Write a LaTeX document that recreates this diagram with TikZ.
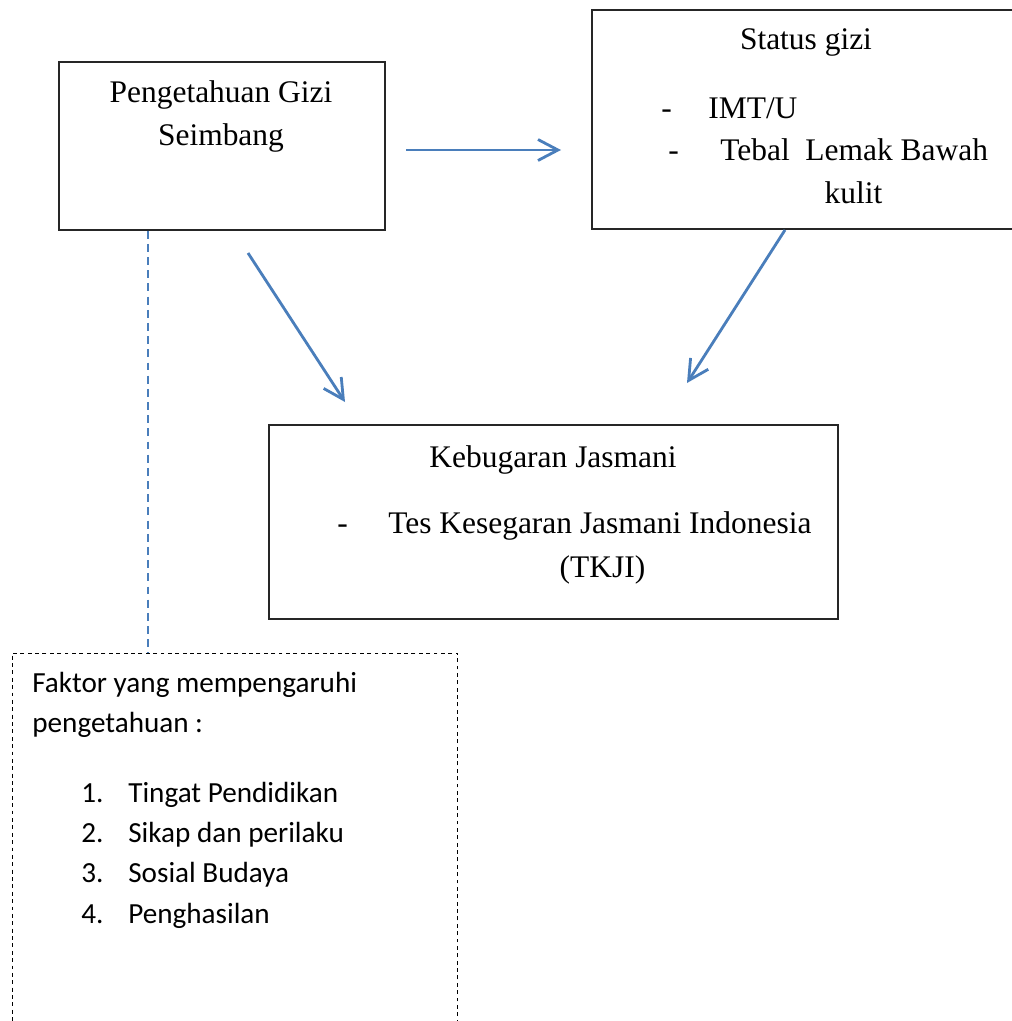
\documentclass[tikz,border=0pt]{standalone}
\usepackage{fontspec}
\setmainfont{Liberation Serif}
\newfontfamily\calibri{Carlito}
\usepackage{tikz}
\usetikzlibrary{arrows.meta,calc,positioning}
\definecolor{garisbiru}{RGB}{74,126,187}
\tikzstyle{arrow} = [line width=1.6pt, garisbiru, -{Straight Barb[length=0.4cm,width=0.42cm,line width=1.6pt]}]

\begin{document}
\begin{tikzpicture}[x=0.02cm,y=-0.02cm]
\tikzset{kotak/.style={draw=black!85,line width=0.85pt,rectangle,inner sep=0pt},
putus/.style={draw=black,line width=0.6pt,dash pattern=on 2.2pt off 2pt,rectangle,inner sep=0pt},
teks/.style={anchor=base,inner sep=0pt,font=\fontsize{17.9}{22}\selectfont},
teksw/.style={anchor=base west,inner sep=0pt,font=\fontsize{17.9}{22}\selectfont},
teksk/.style={anchor=base west,inner sep=0pt,font=\calibri\fontsize{16.6}{20}\selectfont}}
\useasboundingbox (0,0) rectangle (1011,1021);

% kotak
\node[kotak,minimum width=6.52cm,minimum height=3.36cm] (gizi) at (222,146){};
\node[kotak,minimum width=8.76cm,minimum height=4.38cm] (status) at (811,119.5){};
\node[kotak,minimum width=11.38cm,minimum height=3.88cm] (bugar) at (553.5,522){};
\node[putus,minimum width=8.92cm,minimum height=7.94cm] (faktor) at (235,851.5){};

% teks
\node[teks] (gizi1) at (221,102){Pengetahuan Gizi};
\node[teks] (gizi2) at (221,145){Seimbang};

\node[teks] (status1) at (806,50){Status gizi};
\node[teksw] (strip1) at (661,118){-};
\node[teksw] (status2) at (708,118){IMT/U};
\node[teksw] (strip2) at (668,160){-};
\node[teksw] (status3) at (720,160){Tebal\ \ Lemak Bawah};
\node[teks] (status4) at (853.5,203){kulit};

\node[teks] (bugar1) at (553,467){Kebugaran Jasmani};
\node[teksw] (strip3) at (337,533){-};
\node[teksw] (bugar2) at (388,533){Tes Kesegaran Jasmani Indonesia};
\node[teks] (bugar3) at (602.5,577){(TKJI)};

\node[teksk] (faktor1) at (32,692){Faktor yang mempengaruhi};
\node[teksk] (faktor2) at (32,732){pengetahuan :};
\foreach \isi [count=\i] in {Tingat Pendidikan,Sikap dan perilaku,Sosial Budaya,Penghasilan} {
\node[teksk] (no\i) at (81,{762+40.3*\i}){\i.};
\node[teksk] (butir\i) at (128,{762+40.3*\i}){\isi}; }

% panah
\coordinate (p1) at (406,150);
\coordinate (q1) at (561,150);
\coordinate (p2) at (248,253);
\coordinate (q2) at (345,402);
\coordinate (p3) at (785,230);
\coordinate (q3) at (687,383);
\draw[arrow] (p1) -- (q1);
\draw[arrow] (p2) -- (q2);
\draw[arrow] (p3) -- (q3);

\coordinate (garis) at (148,0);
\draw[garisbiru,line width=1.2pt,dash pattern=on 4.5pt off 3pt] (gizi.south -| garis) -- (faktor.north -| garis);

\end{tikzpicture}
\end{document}
